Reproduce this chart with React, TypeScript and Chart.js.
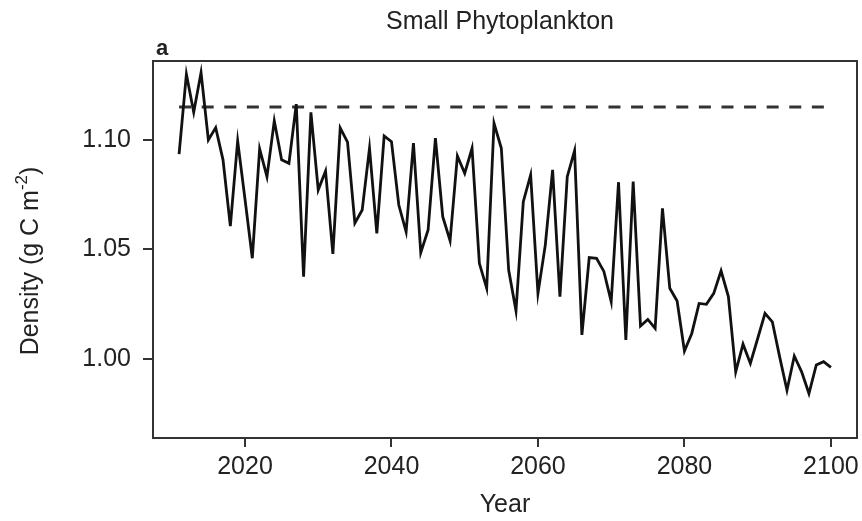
import React, { useEffect, useRef } from "react";
import { Chart, registerables } from "chart.js";

Chart.register(...registerables);

// Annual density of small phytoplankton, 2011-2100
const years = [
  2011, 2012, 2013, 2014, 2015, 2016, 2017, 2018, 2019, 2020,
  2021, 2022, 2023, 2024, 2025, 2026, 2027, 2028, 2029, 2030,
  2031, 2032, 2033, 2034, 2035, 2036, 2037, 2038, 2039, 2040,
  2041, 2042, 2043, 2044, 2045, 2046, 2047, 2048, 2049, 2050,
  2051, 2052, 2053, 2054, 2055, 2056, 2057, 2058, 2059, 2060,
  2061, 2062, 2063, 2064, 2065, 2066, 2067, 2068, 2069, 2070,
  2071, 2072, 2073, 2074, 2075, 2076, 2077, 2078, 2079, 2080,
  2081, 2082, 2083, 2084, 2085, 2086, 2087, 2088, 2089, 2090,
  2091, 2092, 2093, 2094, 2095, 2096, 2097, 2098, 2099, 2100,
];

const density = [
  1.0935, 1.13, 1.1126, 1.1307, 1.1, 1.1056, 1.0909, 1.0607, 1.0995, 1.073,
  1.046, 1.0959, 1.0832, 1.1087, 1.0909, 1.0893, 1.1163, 1.0376, 1.1126, 1.0772,
  1.0858, 1.048, 1.1055, 1.099, 1.062, 1.068, 1.0962, 1.0574, 1.1018, 1.0992,
  1.0703, 1.0581, 1.0985, 1.0486, 1.0589, 1.1008, 1.065, 1.054, 1.0927, 1.0848,
  1.0962, 1.0437, 1.0323, 1.1076, 1.0962, 1.0406, 1.022, 1.0718, 1.084, 1.03,
  1.052, 1.0863, 1.0285, 1.0832, 1.0951, 1.011, 1.0463, 1.046, 1.04, 1.0262,
  1.0807, 1.0087, 1.081, 1.0151, 1.0181, 1.014, 1.0688, 1.0323, 1.0265, 1.0037,
  1.0117, 1.0254, 1.025, 1.03, 1.0403, 1.0285, 0.9942, 1.0068, 0.998, 1.0094,
  1.0209, 1.017, 1.001, 0.9858, 1.0014, 0.9942, 0.9843, 0.9973, 0.9988, 0.9962,
];

// Reference level (dashed)
const baselineYears = [2011, 2100];
const baselineValue = 1.115;

const xTicks = [2020, 2040, 2060, 2080, 2100];
const yTicks = [1.0, 1.05, 1.1];

const FONT = "'Liberation Sans', Arial, Helvetica, sans-serif";
const TEXT = "#222";
const AXIS = "#333";

const decorations = {
  id: "decorations",
  afterDraw(chart: any) {
    const { ctx, chartArea } = chart;
    const { left, right, top, bottom } = chartArea;
    ctx.save();
    // plot frame
    ctx.strokeStyle = AXIS;
    ctx.lineWidth = 2;
    ctx.strokeRect(left, top, right - left, bottom - top);

    ctx.fillStyle = TEXT;
    // title
    ctx.font = `25px ${FONT}`;
    ctx.textAlign = "center";
    ctx.textBaseline = "middle";
    ctx.fillText("Small Phytoplankton", (left + right) / 2 - 5, 22);

    // panel letter
    ctx.font = `bold 22px ${FONT}`;
    ctx.textAlign = "left";
    ctx.textBaseline = "alphabetic";
    ctx.fillText("a", 156, 55);

    // x axis title
    ctx.font = `25px ${FONT}`;
    ctx.textAlign = "center";
    ctx.textBaseline = "middle";
    ctx.fillText("Year", (left + right) / 2, 505);

    // y axis title with superscript
    const main = "Density (g C m";
    const sup = "-2";
    const close = ")";
    ctx.font = `25px ${FONT}`;
    const wMain = ctx.measureText(main).width;
    const wClose = ctx.measureText(close).width;
    ctx.font = `17px ${FONT}`;
    const wSup = ctx.measureText(sup).width;
    const total = wMain + wSup + wClose;
    ctx.translate(31, 261);
    ctx.rotate(-Math.PI / 2);
    ctx.textAlign = "left";
    ctx.textBaseline = "middle";
    let x = -total / 2;
    ctx.font = `25px ${FONT}`;
    ctx.fillText(main, x, 0);
    x += wMain;
    ctx.font = `17px ${FONT}`;
    ctx.fillText(sup, x, -9);
    x += wSup;
    ctx.font = `25px ${FONT}`;
    ctx.fillText(close, x, 0);
    ctx.restore();
  },
};

export default function App() {
  const canvasRef = useRef<HTMLCanvasElement | null>(null);

  useEffect(() => {
    document.body.style.margin = "0";
    const canvas = canvasRef.current;
    if (!canvas) return;

    const chart = new Chart(canvas, {
      type: "line",
      data: {
        datasets: [
          {
            data: years.map((y, i) => ({ x: y, y: density[i] })),
            borderColor: "#111",
            borderWidth: 2.8,
            pointRadius: 0,
            tension: 0,
            borderJoinStyle: "miter",
          },
          {
            data: baselineYears.map((y) => ({ x: y, y: baselineValue })),
            borderColor: "#333",
            borderWidth: 3,
            borderDash: [12, 10.6],
            pointRadius: 0,
          },
        ],
      },
      options: {
        responsive: false,
        animation: false,
        events: [],
        layout: { padding: { top: 61, right: 5, left: 0, bottom: 0 } },
        plugins: {
          legend: { display: false },
          tooltip: { enabled: false },
          title: { display: false },
        },
        scales: {
          x: {
            type: "linear",
            min: 2007.44,
            max: 2103.56,
            afterBuildTicks: (s: any) => {
              s.ticks = xTicks.map((v) => ({ value: v }));
            },
            afterFit: (s: any) => {
              s.height = 83;
              s.paddingLeft = 0;
              s.paddingRight = 0;
            },
            border: { display: false },
            grid: {
              drawOnChartArea: false,
              drawTicks: true,
              tickLength: 9,
              color: AXIS,
              lineWidth: 2,
            },
            ticks: {
              maxRotation: 0,
              autoSkip: false,
              padding: 8,
              color: TEXT,
              font: { family: FONT, size: 25, lineHeight: 1 },
              callback: (v: any) => String(v),
            },
          },
          y: {
            type: "linear",
            min: 0.964,
            max: 1.136,
            afterBuildTicks: (s: any) => {
              s.ticks = yTicks.map((v) => ({ value: v }));
            },
            afterFit: (s: any) => {
              s.width = 153;
              s.paddingTop = 0;
              s.paddingBottom = 0;
            },
            border: { display: false },
            grid: {
              drawOnChartArea: false,
              drawTicks: true,
              tickLength: 10,
              color: AXIS,
              lineWidth: 2,
            },
            ticks: {
              padding: 12,
              color: TEXT,
              font: { family: FONT, size: 25, lineHeight: 1 },
              callback: (v: any) => Number(v).toFixed(2),
            },
          },
        },
      },
      plugins: [decorations],
    });

    return () => chart.destroy();
  }, []);

  return (
    <div style={{ width: 862, height: 521, background: "#fff" }}>
      <canvas ref={canvasRef} width={862} height={521} />
    </div>
  );
}
